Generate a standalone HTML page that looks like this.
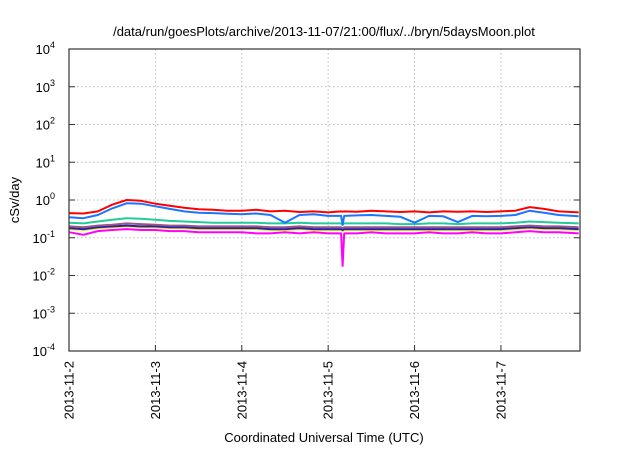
<!DOCTYPE html>
<html><head><meta charset="utf-8"><style>
body{margin:0;background:#fff;}
svg text{font-family:"Liberation Sans",sans-serif;fill:#000;}
</style></head><body>
<svg id="chart" width="640" height="448" viewBox="0 0 640 448">
<rect width="640" height="448" fill="#fff"/>
<text x="324" y="36" font-size="13" text-anchor="middle">/data/run/goesPlots/archive/2013-11-07/21:00/flux/../bryn/5daysMoon.plot</text>
<g id="grid"></g><g id="series"></g><g id="axes"></g>
<text transform="translate(19,200) rotate(-90)" font-size="13" text-anchor="middle">cSv/day</text>
<text x="324" y="442" font-size="13" text-anchor="middle">Coordinated Universal Time (UTC)</text>
</svg>
<script>
const times=[2.0,2.167,2.333,2.5,2.667,2.833,3.0,3.167,3.333,3.5,3.667,3.833,4.0,4.167,4.333,4.5,4.667,4.833,5.0,5.15,5.167,5.185,5.333,5.5,5.667,5.833,6.0,6.167,6.333,6.5,6.667,6.833,7.0,7.167,7.333,7.5,7.667,7.9];
const red=[0.45,0.44,0.5,0.75,1.0,0.95,0.8,0.7,0.62,0.57,0.55,0.52,0.52,0.55,0.5,0.52,0.48,0.5,0.47,0.5,0.49,0.5,0.49,0.52,0.5,0.48,0.5,0.47,0.5,0.49,0.5,0.48,0.5,0.52,0.65,0.58,0.5,0.47];
const blue=[0.35,0.33,0.4,0.6,0.82,0.8,0.68,0.58,0.5,0.46,0.45,0.43,0.42,0.44,0.4,0.25,0.4,0.42,0.38,0.38,0.22,0.38,0.39,0.4,0.38,0.36,0.25,0.38,0.37,0.26,0.38,0.37,0.38,0.4,0.52,0.46,0.4,0.37];
const teal=[0.25,0.24,0.27,0.3,0.33,0.32,0.3,0.28,0.27,0.26,0.25,0.25,0.25,0.25,0.24,0.24,0.25,0.24,0.24,0.24,0.22,0.24,0.24,0.24,0.24,0.23,0.23,0.24,0.24,0.23,0.24,0.24,0.24,0.25,0.27,0.26,0.25,0.24];
const purple=[0.2,0.19,0.21,0.22,0.24,0.23,0.22,0.21,0.21,0.2,0.2,0.2,0.2,0.2,0.19,0.19,0.2,0.19,0.19,0.19,0.18,0.19,0.19,0.19,0.19,0.19,0.19,0.19,0.19,0.19,0.19,0.19,0.19,0.2,0.21,0.2,0.2,0.19];
const navy=[0.18,0.17,0.19,0.2,0.21,0.2,0.2,0.19,0.19,0.18,0.18,0.18,0.18,0.18,0.17,0.17,0.18,0.17,0.17,0.17,0.16,0.17,0.17,0.17,0.17,0.17,0.17,0.17,0.17,0.17,0.17,0.17,0.17,0.18,0.19,0.18,0.18,0.17];
const yellow=[0.17,0.16,0.18,0.19,0.2,0.19,0.19,0.18,0.18,0.17,0.17,0.17,0.17,0.17,0.16,0.16,0.17,0.16,0.16,0.16,0.15,0.16,0.16,0.16,0.16,0.16,0.16,0.16,0.16,0.16,0.16,0.16,0.16,0.17,0.18,0.17,0.17,0.16];
const magenta=[0.14,0.12,0.15,0.16,0.17,0.16,0.16,0.15,0.15,0.14,0.14,0.14,0.14,0.13,0.13,0.14,0.13,0.14,0.13,0.13,0.018,0.13,0.13,0.14,0.13,0.13,0.13,0.14,0.13,0.13,0.14,0.13,0.13,0.14,0.15,0.14,0.14,0.13];
const xTickDays=[2,3,4,5,6,7];
const xTickLabels=["2013-11-2","2013-11-3","2013-11-4","2013-11-5","2013-11-6","2013-11-7"];
const yTickExp=[-4,-3,-2,-1,0,1,2,3,4];

const L=69,R=580,T=49,B=351,d0=2.0,d1=7.915;
const xs=d=>L+(d-d0)/(d1-d0)*(R-L);
const ys=v=>B-(Math.log10(v)+4)/8*(B-T);
const NS="http://www.w3.org/2000/svg";
function mk(tag,attrs,parent){const e=document.createElementNS(NS,tag);for(const k in attrs)e.setAttribute(k,attrs[k]);parent.appendChild(e);return e;}
const grid=document.getElementById('grid'),axes=document.getElementById('axes'),ser=document.getElementById('series');
xTickDays.forEach((d,i)=>{
  const x=xs(d);
  const g=mk('line',{x1:x,x2:x,y1:T,y2:B,stroke:'#bbb','stroke-dasharray':'1.5,2.5','stroke-width':1},grid);
  
  
  const tk=mk('line',{x1:x,x2:x,y1:B,y2:B-6,stroke:'#333','stroke-width':1},axes);
  
  
  const t=mk('text',{transform:`translate(${x+4.5},${B+10}) rotate(-90)`,'font-size':13,'text-anchor':'end'},axes);
  t.textContent=xTickLabels[i];
  
  
});
yTickExp.forEach(e=>{
  const y=ys(Math.pow(10,e));
  if(e>-4&&e<4){
    const g=mk('line',{x1:L,x2:R,y1:y,y2:y,stroke:'#bbb','stroke-dasharray':'1.5,2.5','stroke-width':1},grid);
    
    
  }
  const tk=mk('path',{d:`M${L} ${y}h6M${R} ${y}h-6`,stroke:'#333','stroke-width':1},axes);
  
  
  const t=mk('text',{x:L-14,y:y+5,'font-size':13,'text-anchor':'end'},axes);
  t.textContent='10';
  const s=mk('tspan',{dy:-6,'font-size':9},t);
  s.textContent=String(e);
  
  
});
const fr=mk('rect',{x:L,y:T,width:R-L,height:B-T,fill:'none',stroke:'#333','stroke-width':1.2},axes);


const seriesList=[[magenta,'#ff00ff','magenta'],[yellow,'#ffdd00','yellow'],[navy,'#2222aa','navy'],[purple,'#995588','purple'],[teal,'#22cc99','teal'],[blue,'#1a75ff','blue'],[red,'#ff0000','red']];
seriesList.forEach(([vals,col,nm])=>{
  const d=vals.map((v,i)=>(i?'L':'M')+xs(times[i]).toFixed(1)+' '+ys(v).toFixed(1)).join('');
  const p=mk('path',{d:d,fill:'none',stroke:col,'stroke-width':2,'stroke-linejoin':'round'},ser);
  
  
});
</script>
</body></html>
